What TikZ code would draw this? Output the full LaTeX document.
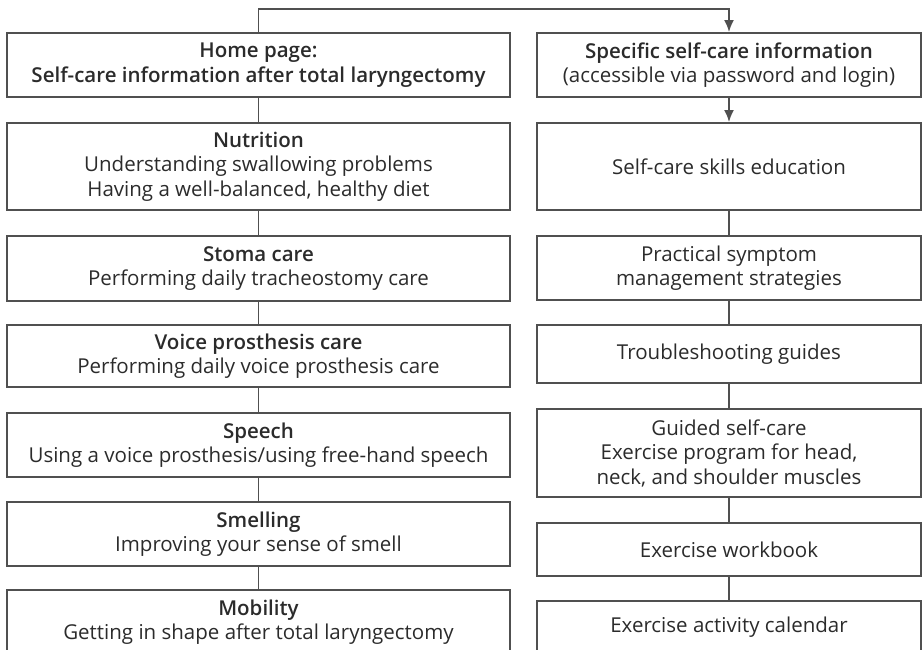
\documentclass[tikz,border=0pt]{standalone}
\usepackage{fontspec}
\setmainfont{Open Sans}[BoldFont={Open Sans Semibold}]
\usetikzlibrary{arrows.meta}
\definecolor{linegray}{HTML}{505050}
\definecolor{txtgray}{HTML}{2B2B2B}
\tikzset{
  box/.style={draw=linegray, line width=1.9pt, align=center, inner sep=0pt,
    text=txtgray, font=\fontsize{20.5}{24.5}\selectfont},
  lbox/.style={box, minimum width=503pt},
  rbox/.style={box, minimum width=384pt},
  conn/.style={draw=linegray, line width=1.9pt},
  arr/.style={conn, -{Latex[length=12pt,width=10pt]}},
}
\begin{document}
\begin{tikzpicture}[x=1pt,y=-1pt]
\useasboundingbox (0,0) rectangle (922,649);
\clip (0,0) rectangle (922,649);
% left column
\node[lbox, minimum height=64pt] (home) at (258.5,65) {\textbf{Home page:}\\\textbf{Self-care information after total laryngectomy}};
\node[lbox, minimum height=87pt] (nutr) at (258.5,166.5) {\textbf{Nutrition}\\Understanding swallowing problems\\Having a well-balanced, healthy diet};
\node[lbox, minimum height=65pt] (stoma) at (258.5,268.5) {\textbf{Stoma care}\\Performing daily tracheostomy care};
\node[lbox, minimum height=62pt] (voice) at (258.5,356) {\textbf{Voice prosthesis care}\\Performing daily voice prosthesis care};
\node[lbox, minimum height=64pt] (speech) at (258.5,445) {\textbf{Speech}\\Using a voice prosthesis/using free-hand speech};
\node[lbox, minimum height=64pt] (smell) at (258.5,534) {\textbf{Smelling}\\Improving your sense of smell};
\node[lbox, minimum height=64pt] (mob) at (258.5,622) {\textbf{Mobility}\\Getting in shape after total laryngectomy};
% right column
\node[rbox, minimum height=64pt] (spec) at (729,65) {\textbf{Specific self-care information}\\(accessible via password and login)};
\node[rbox, minimum height=87pt] (skills) at (729,166.5) {Self-care skills education};
\node[rbox, minimum height=64pt] (pract) at (729,268) {Practical symptom\\management strategies};
\node[rbox, minimum height=58pt] (trouble) at (729,354) {Troubleshooting guides};
\node[rbox, minimum height=88pt] (guided) at (729,453) {Guided self-care\\Exercise program for head,\\neck, and shoulder muscles};
\node[rbox, minimum height=53pt] (work) at (729,549.5) {Exercise workbook};
\node[rbox, minimum height=52pt] (cal) at (729,627) {Exercise activity calendar};
% connectors
\coordinate (topl) at (258.5,9);
\draw[arr] (home.north) -- (topl) -| (spec.north);
\draw[conn] (home) -- (nutr);
\draw[conn] (nutr) -- (stoma);
\draw[conn] (stoma) -- (voice);
\draw[conn] (voice) -- (speech);
\draw[conn] (speech) -- (smell);
\draw[conn] (smell) -- (mob);
\draw[arr] (spec) -- (skills);
\draw[conn] (skills) -- (pract);
\draw[conn] (pract) -- (trouble);
\draw[conn] (trouble) -- (guided);
\draw[conn] (guided) -- (work);
\draw[conn] (work) -- (cal);
\end{tikzpicture}
\end{document}
